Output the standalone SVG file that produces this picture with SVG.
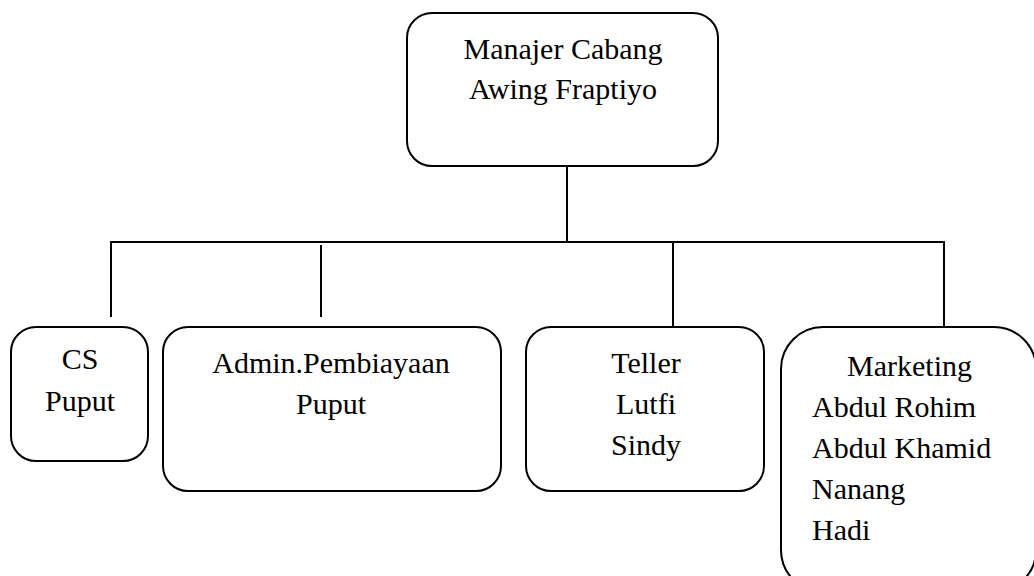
<svg xmlns="http://www.w3.org/2000/svg" width="1034" height="576" viewBox="0 0 1034 576">
  <style>
    .box { fill: #ffffff; stroke: #000000; stroke-width: 2; }
    .link { fill: none; stroke: #000000; stroke-width: 2; }
    .label { font-family: "Liberation Serif", "Times New Roman", serif; font-size: 30px; fill: #000000; }
    .mid { text-anchor: middle; }
  </style>
  <rect width="1034" height="576" fill="#ffffff"/>

  <!-- connectors -->
  <g id="connectors">
    <path class="link" d="M567 160 V243"/>
    <path class="link" d="M110 242 H945"/>
    <path class="link" d="M111 242 V317"/>
    <path class="link" d="M321 245 V317"/>
    <path class="link" d="M673 242 V327"/>
    <path class="link" d="M944 242 V327"/>
  </g>

  <!-- branch manager -->
  <g id="manajer-cabang">
    <rect class="box" x="407" y="13" width="311" height="153" rx="25" ry="25"/>
    <text class="label mid" x="563" y="59">Manajer Cabang</text>
    <text class="label mid" x="563" y="99">Awing Fraptiyo</text>
  </g>

  <!-- customer service -->
  <g id="cs">
    <rect class="box" x="11" y="327" width="137" height="134" rx="25" ry="25"/>
    <text class="label mid" x="80" y="369">CS</text>
    <text class="label mid" x="80" y="411">Puput</text>
  </g>

  <!-- financing admin -->
  <g id="admin-pembiayaan">
    <rect class="box" x="163" y="327" width="338" height="164" rx="25" ry="25"/>
    <text class="label mid" x="331" y="373">Admin.Pembiayaan</text>
    <text class="label mid" x="331" y="414">Puput</text>
  </g>

  <!-- teller -->
  <g id="teller">
    <rect class="box" x="526" y="327" width="238" height="164" rx="25" ry="25"/>
    <text class="label mid" x="646" y="373">Teller</text>
    <text class="label mid" x="646" y="414">Lutfi</text>
    <text class="label mid" x="646" y="455">Sindy</text>
  </g>

  <!-- marketing -->
  <g id="marketing">
    <rect class="box" x="781" y="327" width="255" height="265" rx="42" ry="42"/>
    <text class="label" x="847" y="376">Marketing</text>
    <text class="label" x="812" y="417">Abdul Rohim</text>
    <text class="label" x="812" y="458">Abdul Khamid</text>
    <text class="label" x="812" y="499">Nanang</text>
    <text class="label" x="812" y="540">Hadi</text>
  </g>
</svg>
